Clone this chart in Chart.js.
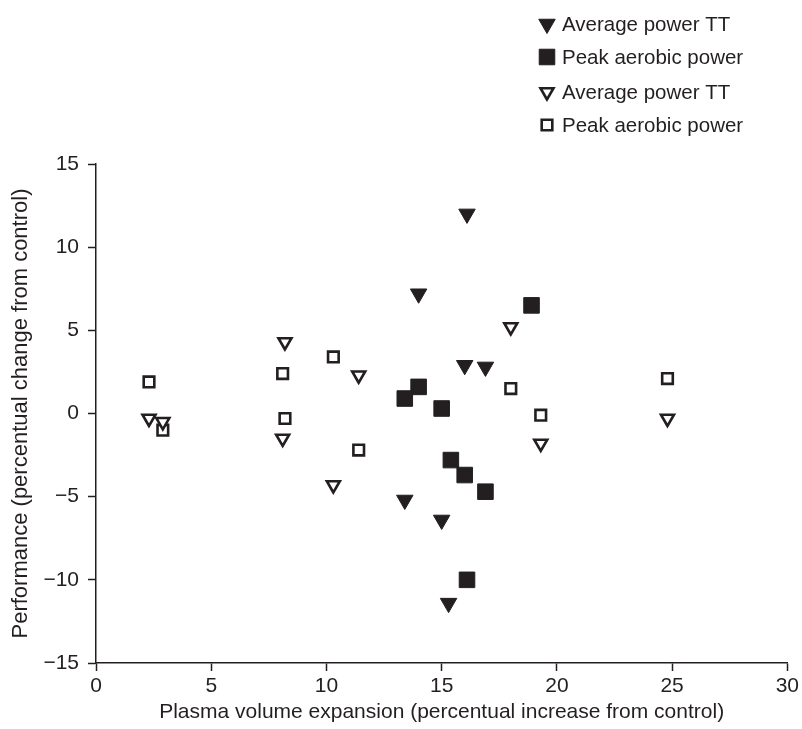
<!DOCTYPE html>
<html>
<head>
<meta charset="utf-8">
<script src="https://cdn.jsdelivr.net/npm/chart.js@4.4.0/dist/chart.umd.min.js"></script>
<style>
  html, body { margin: 0; padding: 0; background: #fff; }
  #wrap { width: 802px; height: 729px; }
</style>
</head>
<body>
<div id="wrap"><canvas id="chart" width="802" height="729"></canvas></div>
<script>
'use strict';
var INK = '#231f20';

// filled symbols
var ttFilledX = [16.1, 14.0, 16.0, 16.9, 13.4, 15.0, 15.3];
var ttFilledY = [12.0, 7.2, 2.9, 2.8, -5.2, -6.4, -11.4];
var papFilledX = [18.9, 14.0, 13.4, 15.0, 15.4, 16.0, 16.9, 16.1];
var papFilledY = [6.5, 1.6, 0.9, 0.3, -2.8, -3.7, -4.7, -10.0];
// open symbols
var ttOpenX = [2.3, 2.9, 8.2, 8.1, 10.3, 11.4, 18.0, 19.3, 24.8];
var ttOpenY = [-0.3, -0.5, 4.3, -1.5, -4.3, 2.3, 5.2, -1.8, -0.3];
var papOpenX = [2.3, 2.9, 8.1, 8.2, 10.3, 11.4, 18.0, 19.3, 24.8];
var papOpenY = [1.9, -1.0, 2.4, -0.3, 3.4, -2.2, 1.5, -0.1, 2.1];

var seriesLabels = ['Average power TT', 'Peak aerobic power', 'Average power TT', 'Peak aerobic power'];
var xTicks = [0, 5, 10, 15, 20, 25, 30];
var yTicks = [-15, -10, -5, 0, 5, 10, 15];

function pairs(xs, ys) {
  return xs.map(function(x, i) { return { x: x, y: ys[i] }; });
}

// legend in the top right corner, drawn with the datasets' own point styles
var cornerLegend = {
  id: 'cornerLegend',
  afterDraw: function(chart) {
    var ctx = chart.ctx;
    var rows = [24, 57, 92, 125];
    ctx.save();
    chart.data.datasets.forEach(function(ds, i) {
      ctx.fillStyle = ds.backgroundColor;
      ctx.strokeStyle = ds.borderColor;
      ctx.lineWidth = ds.borderWidth;
      Chart.helpers.drawPoint(ctx, {
        pointStyle: ds.pointStyle,
        rotation: ds.pointRotation || 0,
        radius: ds.pointRadius,
        borderWidth: ds.borderWidth
      }, 547, rows[i]);
      ctx.fillStyle = INK;
      ctx.font = '20.5px "Liberation Sans", Arial, sans-serif';
      ctx.textBaseline = 'middle';
      ctx.textAlign = 'left';
      ctx.fillText(ds.label, 562, rows[i] + 1);
    });
    ctx.restore();
  }
};

Chart.defaults.font.family = '"Liberation Sans", Arial, sans-serif';
Chart.defaults.font.size = 21;
Chart.defaults.color = INK;

new Chart(document.getElementById('chart'), {
  type: 'scatter',
  data: {
    datasets: [{
      label: seriesLabels[0],
      data: pairs(ttFilledX, ttFilledY),
      pointStyle: 'triangle',
      pointRotation: 180,
      pointRadius: 9.5,
      backgroundColor: INK,
      borderColor: INK,
      borderWidth: 1
    }, {
      label: seriesLabels[1],
      data: pairs(papFilledX, papFilledY),
      pointStyle: 'rect',
      pointRadius: 11,
      backgroundColor: INK,
      borderColor: INK,
      borderWidth: 1
    }, {
      label: seriesLabels[2],
      data: pairs(ttOpenX, ttOpenY),
      pointStyle: 'triangle',
      pointRotation: 180,
      pointRadius: 7.5,
      backgroundColor: '#fff',
      borderColor: INK,
      borderWidth: 2.6
    }, {
      label: seriesLabels[3],
      data: pairs(papOpenX, papOpenY),
      pointStyle: 'rect',
      pointRadius: 7.5,
      backgroundColor: '#fff',
      borderColor: INK,
      borderWidth: 2.6
    }]
  },
  options: {
    responsive: false,
    animation: false,
    events: [],
    layout: { padding: { top: 164, right: 12, left: 0, bottom: 0 } },
    plugins: { legend: { display: false }, tooltip: { enabled: false } },
    scales: {
      x: {
        type: 'linear',
        min: 0, max: 30,
        afterBuildTicks: function(s) { s.ticks = xTicks.map(function(v) { return { value: v }; }); },
        afterFit: function(s) { s.height = 66; },
        grid: { drawOnChartArea: false, drawTicks: true, tickLength: 8, tickColor: INK, tickWidth: 1.5 },
        border: { display: true, color: INK, width: 1.5 },
        ticks: { padding: 3, color: INK, maxRotation: 0 },
        title: { display: true, text: 'Plasma volume expansion (percentual increase from control)', color: INK, font: { size: 21 }, padding: { top: 0, bottom: 4 } }
      },
      y: {
        type: 'linear',
        min: -15, max: 15,
        afterBuildTicks: function(s) { s.ticks = yTicks.map(function(v) { return { value: v }; }); },
        afterFit: function(s) { s.width = 96; },
        grid: { drawOnChartArea: false, drawTicks: true, tickLength: 8, tickColor: INK, tickWidth: 1.5 },
        border: { display: true, color: INK, width: 1.5 },
        ticks: {
          padding: 9, color: INK,
          callback: function(v) { return String(v).replace('-', '\u2212'); }
        },
        title: { display: true, text: 'Performance (percentual change from control)', color: INK, font: { size: 22 }, padding: { top: 8, bottom: 0 } }
      }
    }
  },
  plugins: [cornerLegend]
});
</script>
</body>
</html>
